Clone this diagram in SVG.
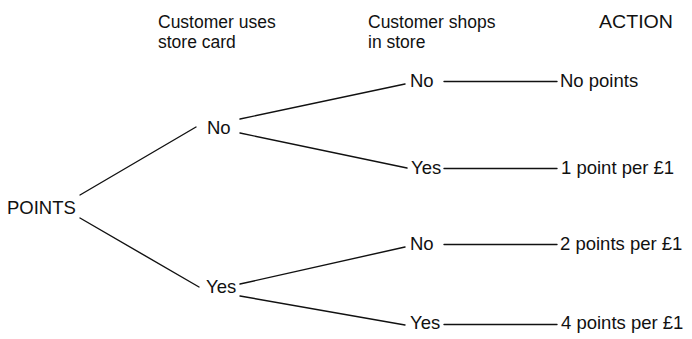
<svg xmlns="http://www.w3.org/2000/svg" width="692" height="339" viewBox="0 0 692 339">
<style>
text{font-family:"Liberation Sans",Arial,sans-serif;font-size:18.5px;fill:#111}
.h{font-size:17.5px}
line{stroke:#111;stroke-width:1.4;stroke-linecap:round}
</style>
<rect width="692" height="339" fill="#fff"/>
<g id="headings">
<text class="h" x="158" y="28">Customer uses</text>
<text class="h" x="158" y="48">store card</text>
<text class="h" x="368" y="28">Customer shops</text>
<text class="h" x="368" y="48">in store</text>
<text class="h" x="599" y="28" textLength="74" lengthAdjust="spacingAndGlyphs">ACTION</text>
</g>
<g id="connectors">
<line x1="80" y1="195" x2="196" y2="127"/>
<line x1="80" y1="218" x2="199" y2="287"/>
<line x1="240" y1="119" x2="405" y2="84"/>
<line x1="240" y1="133" x2="407" y2="168"/>
<line x1="240" y1="284" x2="405" y2="247"/>
<line x1="240" y1="296" x2="405" y2="325"/>
<line x1="444" y1="81.5" x2="557" y2="81.5"/>
<line x1="444" y1="168.5" x2="557" y2="168.5"/>
<line x1="444" y1="244.5" x2="557" y2="244.5"/>
<line x1="444" y1="324.5" x2="557" y2="324.5"/>
</g>
<g id="points"><text x="7" y="214">POINTS</text></g>
<g id="card-no"><text x="207" y="134">No</text></g>
<g id="card-yes"><text x="206" y="293">Yes</text></g>
<g id="shop-no-1"><text x="410" y="87">No</text></g>
<g id="shop-yes-1"><text x="411" y="174">Yes</text></g>
<g id="shop-no-2"><text x="410" y="250">No</text></g>
<g id="shop-yes-2"><text x="410" y="329">Yes</text></g>
<g id="action-1"><text x="560" y="87">No points</text></g>
<g id="action-2"><text x="561" y="174">1 point per £1</text></g>
<g id="action-3"><text x="560" y="250">2 points per £1</text></g>
<g id="action-4"><text x="561" y="329">4 points per £1</text></g>
</svg>
